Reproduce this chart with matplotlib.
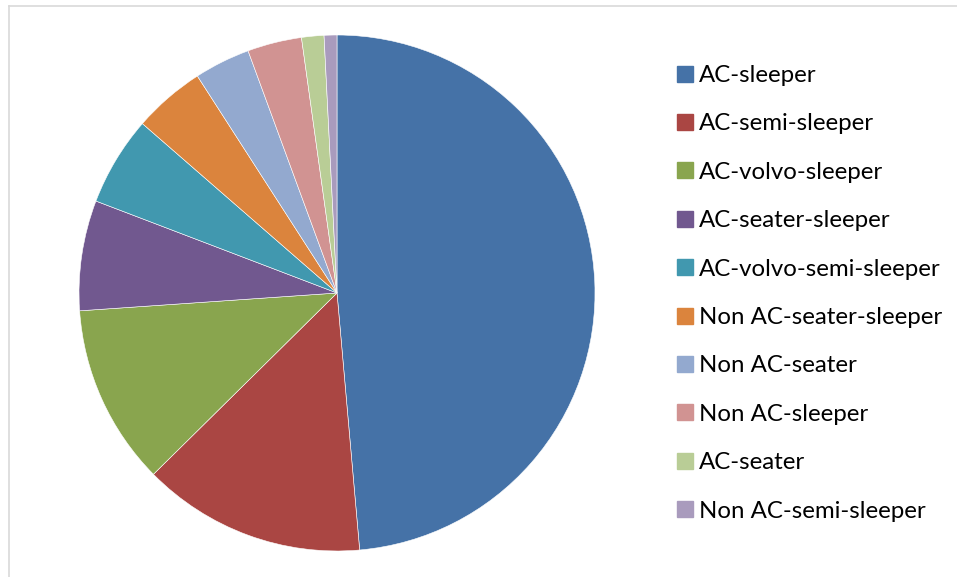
import matplotlib
matplotlib.use('Agg')
from matplotlib import pyplot as plt
from matplotlib.lines import Line2D

labels = ['AC-sleeper', 'AC-semi-sleeper', 'AC-volvo-sleeper', 'AC-seater-sleeper',
          'AC-volvo-semi-sleeper', 'Non AC-seater-sleeper', 'Non AC-seater',
          'Non AC-sleeper', 'AC-seater', 'Non AC-semi-sleeper']
shares = [48.6, 14.0, 11.3, 6.9, 5.6, 4.5, 3.5, 3.4, 1.4, 0.8]
colors = ['#4572A7', '#AA4643', '#89A54E', '#71588F', '#4198AF',
          '#DB843D', '#93A9CF', '#D19392', '#B9CD96', '#A99BBD']

plt.rcParams['font.family'] = ['Lato', 'DejaVu Sans']

W, H = 957, 577
fig = plt.figure(figsize=(W / 100, H / 100), dpi=100)

# pie area (pixels -> figure fraction)
ax = fig.add_axes([79 / W, 26 / H, 516 / W, 516 / H])
wedges, _ = ax.pie(shares, colors=colors, startangle=90, counterclock=False,
                   radius=1.0, wedgeprops=dict(edgecolor='white', linewidth=0.4))
ax.set_xlim(-1, 1)
ax.set_ylim(-1, 1)
ax.set_aspect('equal')
ax.axis('off')

# legend
handles = [Line2D([0], [0], marker='s', linestyle='none', markersize=11,
                  markerfacecolor=c, markeredgecolor=c) for c in colors]
fig.legend(handles, labels, loc='upper left',
           bbox_to_anchor=(677 / W, 1 - 65 / H), frameon=False,
           fontsize=17.3, labelspacing=1.14, handlelength=0.63,
           handletextpad=0.3, borderpad=0, borderaxespad=0)

# thin chart-area border at top and left
fig.add_artist(Line2D([9 / W, 1], [1 - 5.5 / H, 1 - 5.5 / H], color='#d9d9d9', lw=1.2))
fig.add_artist(Line2D([9 / W, 9 / W], [0, 1 - 5.5 / H], color='#d9d9d9', lw=1.2))

fig.savefig('out.png', dpi=100)
